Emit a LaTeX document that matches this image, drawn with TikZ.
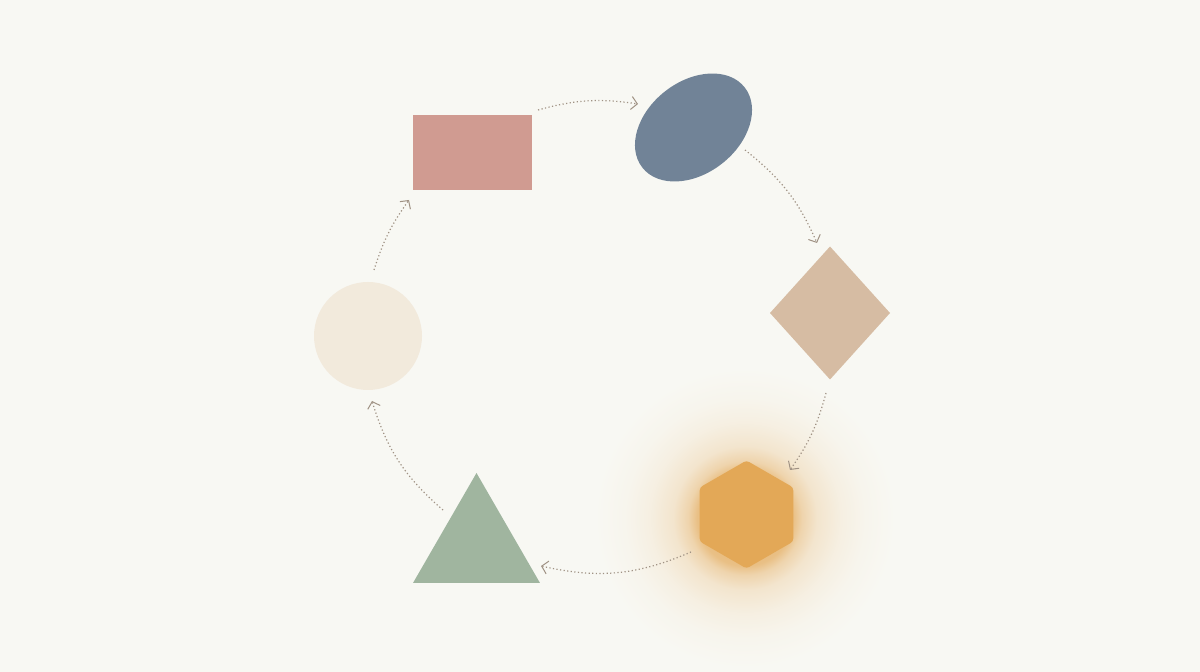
\documentclass[tikz,border=0pt]{standalone}
\usetikzlibrary{shapes.geometric,arrows.meta}
\definecolor{bg}{HTML}{F8F8F3}
\definecolor{rectc}{HTML}{D09B91}
\definecolor{ellc}{HTML}{718397}
\definecolor{diac}{HTML}{D6BCA3}
\definecolor{hexc}{HTML}{E3A857}
\definecolor{tric}{HTML}{A0B59F}
\definecolor{circc}{HTML}{F2EADC}
\definecolor{arrc}{HTML}{A09284}
\pgfdeclareradialshading{glow}{\pgfpoint{0bp}{0bp}}{%
  color(0bp)=(hexc);
  color(8bp)=(hexc!70!bg);
  color(9.5bp)=(hexc!45!bg);
  color(12bp)=(hexc!24!bg);
  color(16bp)=(hexc!11!bg);
  color(20bp)=(hexc!4!bg);
  color(25bp)=(bg);
  color(50bp)=(bg)}
\tikzset{
  shp/.style={draw=none,inner sep=0pt,outer sep=0pt},
  flow/.style={draw=arrc,line width=1.2pt,dash pattern=on 1.2pt off 2.4pt,
    -{Straight Barb[length=6pt,width=13pt,line width=1pt]}}
}
\begin{document}
\begin{tikzpicture}[x=1pt,y=1pt]
\fill[bg] (0,0) rectangle (1200,672);
\useasboundingbox (0,0) rectangle (1200,672);
% glow
\shade[shading=glow] (745,154) circle (150);
% shapes
\node[shp,fill=rectc,rectangle,minimum width=119pt,minimum height=75pt] (rect) at (472.5,519.5) {};
\node[shp,fill=ellc,ellipse,minimum width=130pt,minimum height=92pt,rotate=38] (ell) at (693.5,544.5) {};
\node[shp,fill=diac,diamond,minimum width=120pt,minimum height=133pt] (dia) at (830,359) {};
\node[shp,fill=hexc,regular polygon,regular polygon sides=6,shape border rotate=30,minimum size=108pt,rounded corners=3pt] (hex) at (746.5,157.5) {};
\node[shp,fill=tric,regular polygon,regular polygon sides=3,minimum size=146.6pt] (tri) at (476.5,125.7) {};
\node[shp,fill=circc,circle,minimum size=108pt] (circ) at (368,336) {};
% arrow end points
\coordinate (a1s) at (538,562); \coordinate (a1e) at (638,568);
\coordinate (a2s) at (745,522); \coordinate (a2e) at (817,429);
\coordinate (a3s) at (826,279); \coordinate (a3e) at (790,202);
\coordinate (a4s) at (691,120); \coordinate (a4e) at (541,106);
\coordinate (a5s) at (443,162); \coordinate (a5e) at (372,271);
\coordinate (a6s) at (374,402); \coordinate (a6e) at (409,472);
\draw[flow] (a1s) to[bend left=12] (a1e);
\draw[flow] (a2s) to[bend left=14] (a2e);
\draw[flow] (a3s) to[bend left=10] (a3e);
\draw[flow] (a4s) to[bend left=18] (a4e);
\draw[flow] (a5s) to[bend left=16] (a5e);
\draw[flow] (a6s) to[bend left=9] (a6e);
\end{tikzpicture}
\end{document}
